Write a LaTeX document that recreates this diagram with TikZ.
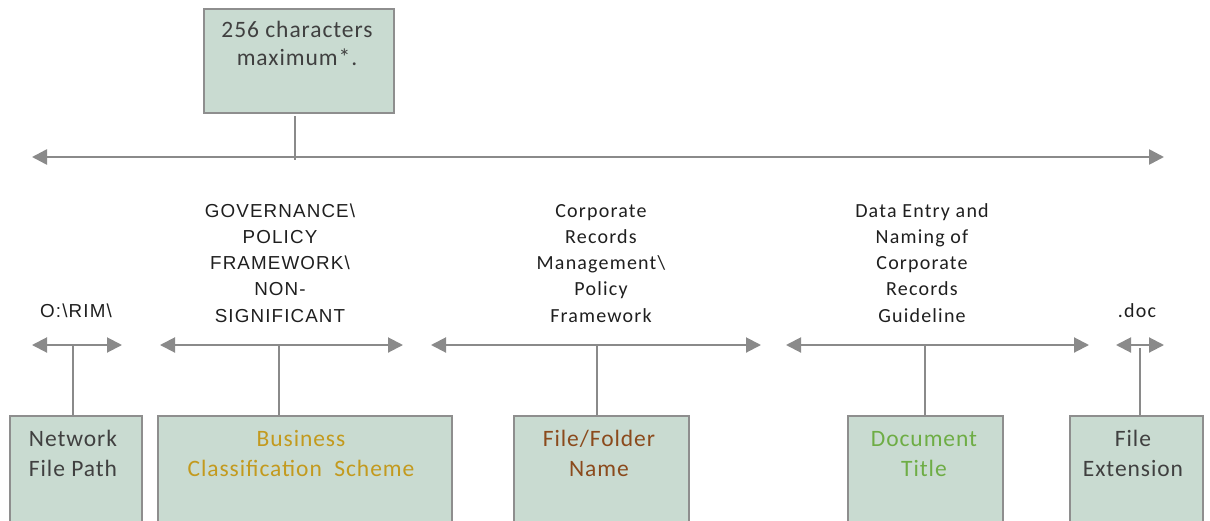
\documentclass[tikz,border=0pt]{standalone}
\usepackage{fontspec}
\setmainfont{Carlito}
\newfontfamily\arialfont[LetterSpace=6]{Liberation Sans}
\newfontfamily\boxfont[LetterSpace=4]{Carlito}
\newfontfamily\labelfont[LetterSpace=6]{Carlito}
\usetikzlibrary{arrows.meta}
\definecolor{boxfill}{HTML}{C9DBD1}
\definecolor{boxline}{HTML}{8E8E8E}
\definecolor{linegray}{HTML}{8A8A8A}
\definecolor{txtgray}{HTML}{404040}
\definecolor{bcsgold}{HTML}{C39A1E}
\definecolor{ffbrown}{HTML}{8B4A1C}
\definecolor{dtgreen}{HTML}{6EAD45}
% text nodes are placed by the baseline of their last line
\tikzset{
  fieldbox/.style={draw=boxline, line width=1.6pt, fill=boxfill, inner sep=0pt, anchor=north west},
  boxtext/.style={anchor=base, align=center, inner sep=0pt, text=txtgray,
    font=\boxfont\fontsize{23.5}{30}\selectfont},
  smalllabel/.style={anchor=base, align=center, inner sep=0pt, text=black!88,
    font=\labelfont\fontsize{20}{26.2}\selectfont},
  capslabel/.style={smalllabel, font=\arialfont\fontsize{18.8}{26.2}\selectfont},
  span/.style={draw=linegray, line width=2pt, {Triangle[length=15pt,width=15pt]}-{Triangle[length=15pt,width=15pt]}},
  tick/.style={draw=linegray, line width=1.8pt}
}
\begin{document}
\begin{tikzpicture}[x=1pt,y=-1pt]
\useasboundingbox (0,0) rectangle (1210,520);
\clip (0,0) rectangle (1210,520);

% top note box
\node[fieldbox, minimum width=190pt, minimum height=104pt] (top) at (203,8) {};
\node[boxtext, font=\boxfont\fontsize{23.5}{28}\selectfont] (toptxt) at (297,65) {256 characters\\maximum*.};

% main span
\coordinate (mainL) at (32,157);
\coordinate (mainR) at (1164,157);
\coordinate (mainT) at (295,160);
\coordinate (topB) at (295,116);
\draw[span, line width=2.6pt] (mainL) -- (mainR);
\draw[tick] (topB) -- (mainT);

% component spans
\coordinate (aL) at (32,345);   \coordinate (aR) at (122,345);
\coordinate (bL) at (160,345);  \coordinate (bR) at (403,345);
\coordinate (cL) at (431,345);  \coordinate (cR) at (761,345);
\coordinate (dL) at (786,345);  \coordinate (dR) at (1089,345);
\coordinate (eL) at (1116,345); \coordinate (eR) at (1164,345);
\foreach \s in {a,b,c,d,e}{\draw[span] (\s L) -- (\s R);}

% component example labels
\node[capslabel] (la) at (76,317) {O:\textbackslash RIM\textbackslash};
\node[capslabel] (lb) at (280,322) {GOVERNANCE\textbackslash\\POLICY\\FRAMEWORK\textbackslash\\NON-\\SIGNIFICANT};
\node[smalllabel] (lc) at (601,322) {Corporate\\Records\\Management\textbackslash\\Policy\\Framework};
\node[smalllabel] (ld) at (922,322) {Data Entry and\\Naming of\\Corporate\\Records\\Guideline};
\node[smalllabel] (le) at (1137,317) {.doc};

% component boxes
\node[fieldbox, minimum width=132pt, minimum height=120pt] (ba) at (9,415) {};
\node[fieldbox, minimum width=294pt, minimum height=120pt] (bb) at (157,415) {};
\node[fieldbox, minimum width=175pt, minimum height=120pt] (bc) at (513,415) {};
\node[fieldbox, minimum width=155pt, minimum height=120pt] (bd) at (847,415) {};
\node[fieldbox, minimum width=133pt, minimum height=120pt] (be) at (1069,415) {};

\node[boxtext] (ta) at (73,476) {Network\\File Path};
\node[boxtext, text=bcsgold] (tb) at (301,476) {Business\\Classification\ \ Scheme};
\node[boxtext, text=ffbrown] (tc) at (599,476) {File/Folder\\Name};
\node[boxtext, text=dtgreen] (td) at (924,476) {Document\\Title};
\node[boxtext] (te) at (1133,476) {File\\Extension};

% ticks from boxes up to spans
\coordinate (ja) at (73,345);
\coordinate (jb) at (279,345);
\coordinate (jc) at (597,345);
\coordinate (jd) at (925,345);
\coordinate (je) at (1140,348);
\draw[tick] (ba.north -| ja) -- (ja);
\draw[tick] (bb.north -| jb) -- (jb);
\draw[tick] (bc.north -| jc) -- (jc);
\draw[tick] (bd.north -| jd) -- (jd);
\draw[tick] (be.north -| je) -- (je);
\end{tikzpicture}
\end{document}
